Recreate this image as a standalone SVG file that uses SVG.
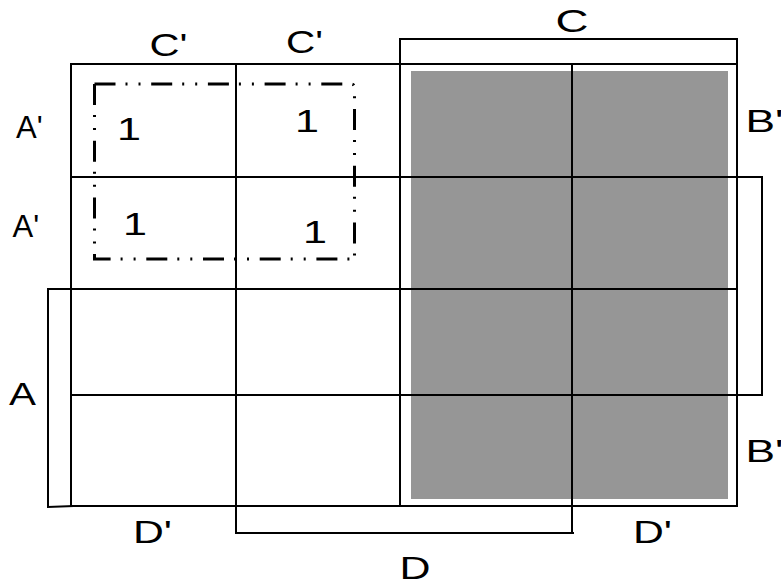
<svg xmlns="http://www.w3.org/2000/svg" width="781" height="585" viewBox="0 0 781 585">
<style>
.ln{stroke:#000;stroke-width:2;fill:none;stroke-linecap:square}
.lb{font-family:"Liberation Sans",Arial,sans-serif;font-size:31px;fill:#000}
.grp{stroke:#000;stroke-width:3;fill:none;stroke-dasharray:21 10 2 11 2 10.7}
</style>
<rect width="781" height="585" fill="#fff"/>
<g id="shade"><rect x="411" y="71" width="317" height="428" fill="#969696"/></g>
<g id="grid">
<path class="ln" d="M71 64H737M71 177H762M48 289H737M71 395H762M71 506H737"/>
<path class="ln" d="M71 64V506M236 64V533M400 39V506M572 64V533M737 39V506"/>
</g>
<g id="brackets">
<path class="ln" d="M400 39H737"/>
<path class="ln" d="M762 177V395"/>
<path class="ln" d="M48 289V507L73 506"/>
<path class="ln" d="M236 533H573"/>
</g>
<g id="group-box">
<path class="grp" d="M94.5 84H351Q354.5 84 354.5 88V259"/>
<path class="grp" d="M94.5 84V259H351Q354.5 259 354.5 255"/>
</g>
<g id="labels">
<text class="lb" x="149.5" y="56" textLength="38" lengthAdjust="spacingAndGlyphs">C'</text>
<text class="lb" x="286" y="53" textLength="37" lengthAdjust="spacingAndGlyphs">C'</text>
<text class="lb" x="555.5" y="32" textLength="33" lengthAdjust="spacingAndGlyphs">C</text>
<text class="lb" x="16" y="138">A'</text>
<text class="lb" x="12.5" y="237">A'</text>
<text class="lb" x="9" y="405" textLength="27" lengthAdjust="spacingAndGlyphs">A</text>
<text class="lb" x="745.5" y="132" textLength="38" lengthAdjust="spacingAndGlyphs">B'</text>
<text class="lb" x="745.5" y="462" textLength="38" lengthAdjust="spacingAndGlyphs">B'</text>
<text class="lb" x="133" y="543" textLength="39" lengthAdjust="spacingAndGlyphs">D'</text>
<text class="lb" x="633" y="543" textLength="39" lengthAdjust="spacingAndGlyphs">D'</text>
<text class="lb" x="399.5" y="579" textLength="31" lengthAdjust="spacingAndGlyphs">D</text>
<text class="lb" x="117" y="140" textLength="24" lengthAdjust="spacingAndGlyphs">1</text>
<text class="lb" x="295" y="132" textLength="24" lengthAdjust="spacingAndGlyphs">1</text>
<text class="lb" x="123" y="235" textLength="24" lengthAdjust="spacingAndGlyphs">1</text>
<text class="lb" x="303" y="243" textLength="24" lengthAdjust="spacingAndGlyphs">1</text>
</g>
</svg>
